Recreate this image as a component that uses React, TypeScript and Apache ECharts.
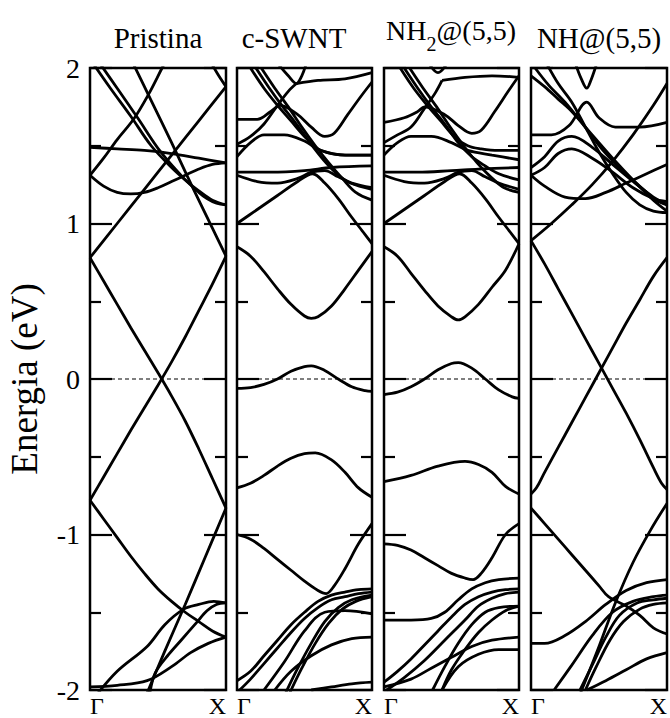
import React, { useEffect, useRef } from "react";
import * as echarts from "echarts";

const panelTitles = ["Pristina", "c-SWNT", "NH2@(5,5)", "NH@(5,5)"];
const kLabels = ["Γ", "X"];
const energyMin = -2;
const energyMax = 2;
const fermiLevel = 0;

// Pristina (5,5)
const pristinaBands: number[][][] = [
  [[0, 0.78], [0.1, 0.63], [0.2, 0.48], [0.3, 0.33], [0.4, 0.185], [0.5, 0.04], [0.6, -0.11], [0.7, -0.27], [0.8, -0.45], [0.9, -0.64], [1, -0.83]],
  [[0, -0.78], [0.1, -0.63], [0.2, -0.48], [0.3, -0.33], [0.4, -0.185], [0.5, -0.04], [0.6, 0.11], [0.7, 0.27], [0.8, 0.44], [0.9, 0.61], [1, 0.79]],
  [[0.3, 2.06], [0.45, 1.79], [0.6, 1.52], [0.75, 1.24], [0.9, 0.97], [1, 0.79]],
  [[0, -0.78], [0.1, -0.9], [0.2, -1.02], [0.3, -1.14], [0.4, -1.25], [0.5, -1.35], [0.6, -1.43], [0.7, -1.5], [0.8, -1.56], [0.9, -1.62], [1, -1.66]],
  [[0.41, -2.04], [0.55, -1.75], [0.7, -1.45], [0.85, -1.14], [1, -0.83]],
  [[0.05, -2.03], [0.2, -1.88], [0.42, -1.72], [0.55, -1.58], [0.69, -1.48], [0.8, -1.45], [0.91, -1.43], [1, -1.44]],
  [[0.44, -2.02], [0.48, -1.89], [0.58, -1.77], [0.67, -1.68], [0.78, -1.57], [0.86, -1.49], [0.93, -1.45], [1, -1.44]],
  [[0, -1.98], [0.2, -1.97], [0.42, -1.94], [0.6, -1.85], [0.74, -1.76], [0.87, -1.7], [1, -1.66]],
  [[0, 1.31], [0.1, 1.42], [0.2, 1.54], [0.32, 1.67], [0.43, 1.83], [0.53, 2.0], [0.56, 2.05]],
  [[0, 1.31], [0.1, 1.24], [0.2, 1.2], [0.3, 1.19], [0.4, 1.2], [0.5, 1.23], [0.6, 1.27], [0.7, 1.31], [0.8, 1.35], [0.9, 1.38], [1, 1.39]],
  [[0, 1.49], [0.2, 1.48], [0.4, 1.47], [0.6, 1.45], [0.8, 1.42], [1, 1.39]],
  [[0, 0.78], [0.2, 1.0], [0.4, 1.22], [0.6, 1.44], [0.8, 1.66], [1, 1.88]],
  [[0.03, 2.02], [0.15, 1.87], [0.3, 1.69], [0.45, 1.5], [0.6, 1.36], [0.7, 1.28], [0.8, 1.21], [0.9, 1.15], [1, 1.12]],
  [[0.08, 2.02], [0.2, 1.87], [0.35, 1.68], [0.52, 1.46], [0.69, 1.29], [0.8, 1.2], [0.86, 1.16], [0.93, 1.13], [1, 1.12]],
  [[0.88, 2.05], [0.94, 1.96], [1, 1.88]],
];

// c-SWNT
const cswntBands: number[][][] = [
  [[0, 0.85], [0.1, 0.79], [0.2, 0.69], [0.3, 0.58], [0.4, 0.48], [0.5, 0.405], [0.55, 0.39], [0.6, 0.4], [0.7, 0.47], [0.8, 0.58], [0.9, 0.7], [1, 0.82]],
  [[0, -0.06], [0.1, -0.055], [0.2, -0.035], [0.3, 0.0], [0.4, 0.05], [0.5, 0.08], [0.55, 0.085], [0.65, 0.055], [0.75, 0.0], [0.85, -0.05], [0.95, -0.075], [1, -0.08]],
  [[0, -0.7], [0.1, -0.67], [0.2, -0.62], [0.3, -0.56], [0.4, -0.51], [0.5, -0.48], [0.58, -0.475], [0.7, -0.52], [0.8, -0.6], [0.9, -0.7], [1, -0.76]],
  [[0, -1.0], [0.1, -1.03], [0.2, -1.09], [0.3, -1.16], [0.4, -1.23], [0.5, -1.3], [0.6, -1.36], [0.66, -1.38], [0.72, -1.33], [0.8, -1.22], [0.9, -1.06], [1, -0.93]],
  [[0, -1.94], [0.1, -1.88], [0.2, -1.78], [0.3, -1.68], [0.4, -1.58], [0.5, -1.5], [0.6, -1.43], [0.7, -1.39], [0.8, -1.37], [0.9, -1.355], [1, -1.35]],
  [[0.02, -2.0], [0.1, -1.93], [0.2, -1.83], [0.3, -1.73], [0.4, -1.63], [0.5, -1.54], [0.6, -1.47], [0.7, -1.42], [0.8, -1.4], [0.9, -1.38], [1, -1.37]],
  [[0.36, -2.02], [0.45, -1.86], [0.55, -1.7], [0.65, -1.56], [0.75, -1.47], [0.85, -1.42], [1, -1.39]],
  [[0.39, -2.02], [0.48, -1.86], [0.58, -1.7], [0.68, -1.57], [0.78, -1.48], [0.88, -1.43], [1, -1.4]],
  [[0.2, -2.0], [0.35, -1.82], [0.5, -1.62], [0.65, -1.5], [0.8, -1.49], [1, -1.51]],
  [[0.28, -2.0], [0.4, -1.88], [0.55, -1.78], [0.7, -1.71], [0.85, -1.67], [1, -1.66]],
  [[0.55, -2.0], [0.7, -1.98], [0.85, -1.96], [1, -1.95]],
  [[0, 1.0], [0.15, 1.09], [0.3, 1.18], [0.45, 1.27], [0.56, 1.32], [0.65, 1.26], [0.75, 1.16], [0.85, 1.04], [0.93, 0.95], [1, 0.87]],
  [[0, 1.33], [0.25, 1.33], [0.5, 1.34], [0.7, 1.36], [1, 1.37]],
  [[0, 1.31], [0.15, 1.27], [0.3, 1.26], [0.45, 1.29], [0.55, 1.33], [0.65, 1.34], [0.75, 1.3], [0.85, 1.26], [1, 1.23]],
  [[0.1, 2.0], [0.2, 1.87], [0.3, 1.76], [0.4, 1.66], [0.5, 1.56], [0.6, 1.48], [0.7, 1.45], [0.85, 1.44], [1, 1.44]],
  [[0.14, 2.0], [0.24, 1.87], [0.34, 1.75], [0.44, 1.64], [0.54, 1.52], [0.64, 1.41], [0.74, 1.32], [0.84, 1.26], [1, 1.22]],
  [[0.18, 2.0], [0.28, 1.87], [0.38, 1.75], [0.48, 1.62], [0.58, 1.5], [0.68, 1.39], [0.78, 1.29], [0.88, 1.2], [1, 1.15]],
  [[0.31, 2.02], [0.38, 1.95], [0.44, 1.9], [0.48, 1.95], [0.51, 2.02]],
  [[0.44, 1.9], [0.6, 1.92], [0.8, 1.93], [1, 1.97]],
  [[0, 1.67], [0.15, 1.67], [0.25, 1.72], [0.32, 1.76], [0.45, 1.7], [0.55, 1.62], [0.65, 1.56], [0.72, 1.58], [0.82, 1.7], [0.92, 1.82], [1, 1.91]],
  [[0, 1.51], [0.1, 1.56], [0.2, 1.64], [0.3, 1.76], [0.38, 1.85], [0.44, 1.9]],
  [[0, 1.43], [0.1, 1.52], [0.2, 1.57], [0.35, 1.57], [0.5, 1.53], [0.62, 1.47], [0.8, 1.44], [1, 1.44]],
];

// NH2@(5,5)
const nh2Bands: number[][][] = [
  [[0, 0.85], [0.1, 0.79], [0.2, 0.68], [0.3, 0.57], [0.4, 0.47], [0.5, 0.4], [0.55, 0.38], [0.6, 0.4], [0.7, 0.48], [0.8, 0.59], [0.9, 0.7], [1, 0.87]],
  [[0, -0.1], [0.1, -0.085], [0.2, -0.05], [0.3, 0.0], [0.4, 0.06], [0.5, 0.1], [0.55, 0.105], [0.65, 0.07], [0.75, 0.0], [0.85, -0.07], [0.95, -0.115], [1, -0.125]],
  [[0, -0.66], [0.2, -0.62], [0.4, -0.56], [0.6, -0.53], [0.7, -0.55], [0.8, -0.6], [0.9, -0.69], [1, -0.74]],
  [[0, -1.06], [0.1, -1.07], [0.2, -1.1], [0.3, -1.15], [0.4, -1.2], [0.5, -1.25], [0.6, -1.28], [0.66, -1.29], [0.72, -1.25], [0.8, -1.15], [0.9, -1.0], [1, -0.93]],
  [[0, -1.55], [0.2, -1.55], [0.35, -1.54], [0.45, -1.5], [0.55, -1.42], [0.65, -1.35], [0.75, -1.31], [0.85, -1.29], [1, -1.28]],
  [[0, -1.95], [0.1, -1.88], [0.2, -1.8], [0.3, -1.71], [0.4, -1.62], [0.5, -1.53], [0.6, -1.45], [0.7, -1.4], [0.8, -1.37], [0.9, -1.355], [1, -1.35]],
  [[0.02, -2.0], [0.15, -1.92], [0.3, -1.81], [0.45, -1.68], [0.6, -1.55], [0.7, -1.46], [0.8, -1.41], [0.9, -1.38], [1, -1.37]],
  [[0.36, -2.0], [0.45, -1.85], [0.55, -1.7], [0.65, -1.58], [0.75, -1.5], [0.85, -1.47], [1, -1.46]],
  [[0.43, -2.0], [0.5, -1.87], [0.6, -1.74], [0.7, -1.63], [0.8, -1.55], [0.9, -1.49], [1, -1.46]],
  [[0, -1.98], [0.2, -1.93], [0.35, -1.86], [0.5, -1.79], [0.65, -1.72], [0.8, -1.68], [1, -1.66]],
  [[0.43, -2.0], [0.55, -1.85], [0.7, -1.77], [0.85, -1.74], [1, -1.74]],
  [[0, 1.0], [0.15, 1.09], [0.3, 1.18], [0.45, 1.27], [0.56, 1.32], [0.65, 1.26], [0.75, 1.16], [0.85, 1.04], [0.93, 0.95], [1, 0.87]],
  [[0, 1.33], [0.25, 1.33], [0.5, 1.34], [0.7, 1.35], [1, 1.36]],
  [[0, 1.31], [0.15, 1.27], [0.3, 1.26], [0.45, 1.29], [0.55, 1.33], [0.65, 1.34], [0.75, 1.3], [0.85, 1.26], [1, 1.22]],
  [[0.12, 2.0], [0.22, 1.87], [0.32, 1.76], [0.42, 1.66], [0.52, 1.56], [0.62, 1.5], [0.72, 1.48], [0.85, 1.47], [1, 1.47]],
  [[0.15, 2.0], [0.25, 1.87], [0.35, 1.75], [0.45, 1.64], [0.55, 1.52], [0.65, 1.43], [0.75, 1.37], [0.85, 1.32], [1, 1.28]],
  [[0.19, 2.0], [0.29, 1.87], [0.39, 1.75], [0.49, 1.62], [0.59, 1.5], [0.69, 1.39], [0.79, 1.3], [0.89, 1.23], [1, 1.2]],
  [[0.34, 2.02], [0.4, 1.97], [0.46, 2.02]],
  [[0.43, 1.92], [0.6, 1.94], [0.8, 1.95], [1, 1.94]],
  [[0, 1.65], [0.15, 1.68], [0.25, 1.72], [0.3, 1.75], [0.45, 1.7], [0.55, 1.63], [0.65, 1.58], [0.72, 1.6], [0.82, 1.72], [0.92, 1.85], [1, 1.95]],
  [[0, 1.52], [0.1, 1.57], [0.2, 1.62], [0.3, 1.74], [0.38, 1.84], [0.43, 1.92]],
  [[0, 1.44], [0.1, 1.52], [0.2, 1.56], [0.35, 1.56], [0.5, 1.52], [0.62, 1.47], [0.8, 1.44], [1, 1.41]],
];

// NH@(5,5)
const nhBands: number[][][] = [
  [[0, 0.89], [0.1, 0.74], [0.2, 0.58], [0.3, 0.42], [0.4, 0.26], [0.5, 0.1], [0.6, -0.06], [0.7, -0.22], [0.8, -0.39], [0.9, -0.57], [0.96, -0.67], [1, -0.71]],
  [[0, -0.74], [0.04, -0.7], [0.1, -0.6], [0.2, -0.44], [0.3, -0.28], [0.4, -0.12], [0.5, 0.04], [0.6, 0.2], [0.7, 0.36], [0.8, 0.51], [0.9, 0.66], [1, 0.78]],
  [[0, -0.83], [0.1, -0.93], [0.2, -1.03], [0.3, -1.13], [0.4, -1.23], [0.5, -1.33], [0.57, -1.4], [0.7, -1.46], [0.8, -1.52], [0.9, -1.6], [1, -1.64]],
  [[0.35, -2.05], [0.5, -1.72], [0.62, -1.44], [0.75, -1.18], [0.88, -0.97], [1, -0.8]],
  [[0, -1.7], [0.1, -1.7], [0.25, -1.65], [0.4, -1.56], [0.55, -1.45], [0.7, -1.36], [0.85, -1.31], [1, -1.29]],
  [[0.17, -2.0], [0.3, -1.84], [0.45, -1.65], [0.6, -1.5], [0.75, -1.43], [0.9, -1.4], [1, -1.39]],
  [[0.36, -2.0], [0.45, -1.84], [0.55, -1.66], [0.65, -1.52], [0.78, -1.44], [0.9, -1.42], [1, -1.41]],
  [[0.4, -2.0], [0.48, -1.85], [0.58, -1.68], [0.68, -1.56], [0.8, -1.48], [0.9, -1.45], [1, -1.44]],
  [[0.41, -2.0], [0.55, -1.94], [0.7, -1.87], [0.85, -1.8], [1, -1.76]],
  [[0, 0.89], [0.15, 1.0], [0.3, 1.12], [0.45, 1.25], [0.6, 1.4], [0.75, 1.57], [0.9, 1.76], [1, 1.9]],
  [[0, 1.31], [0.1, 1.24], [0.25, 1.17], [0.4, 1.16], [0.55, 1.2], [0.7, 1.26], [0.85, 1.32], [1, 1.38]],
  [[0, 1.31], [0.1, 1.36], [0.2, 1.45], [0.3, 1.48], [0.45, 1.42], [0.6, 1.33], [0.75, 1.23], [0.9, 1.16], [1, 1.14]],
  [[0, 1.36], [0.1, 1.43], [0.2, 1.53], [0.3, 1.56], [0.45, 1.49], [0.6, 1.38], [0.75, 1.27], [0.9, 1.17], [1, 1.12]],
  [[0, 1.57], [0.15, 1.57], [0.28, 1.63], [0.41, 1.78], [0.5, 1.68], [0.62, 1.62], [0.8, 1.62], [1, 1.65]],
  [[0, 1.95], [0.1, 1.88], [0.2, 1.8], [0.3, 1.72], [0.45, 1.57], [0.6, 1.42], [0.75, 1.28], [0.9, 1.15], [1, 1.08]],
  [[0.03, 2.0], [0.13, 1.89], [0.25, 1.78], [0.38, 1.64], [0.52, 1.48], [0.66, 1.35], [0.8, 1.24], [0.92, 1.15], [1, 1.12]],
  [[0.12, 2.02], [0.2, 1.9], [0.3, 1.78], [0.4, 1.62], [0.5, 1.46], [0.6, 1.32], [0.7, 1.2], [0.8, 1.12], [0.9, 1.08], [1, 1.07]],
  [[0.33, 2.02], [0.37, 1.93], [0.41, 1.87], [0.44, 1.92], [0.48, 2.02]],
];

const allBands = [pristinaBands, cswntBands, nh2Bands, nhBands];
const gridLefts = [90, 237, 384, 531];
const gridWidths = [136, 135, 135, 136];

const FONT = "'Liberation Serif', 'DejaVu Serif', serif";

export default function App() {
  const ref = useRef<HTMLDivElement>(null);
  useEffect(() => {
    if (!ref.current) return;
    const chart = echarts.init(ref.current, undefined, { renderer: "svg" });
    const grids: any[] = [];
    const xAxes: any[] = [];
    const yAxes: any[] = [];
    const series: any[] = [];
    allBands.forEach((bands, i) => {
      grids.push({
        left: gridLefts[i],
        top: 68,
        width: gridWidths[i],
        height: 622,
        show: true,
        borderColor: "#000",
        borderWidth: 2.5,
        backgroundColor: "transparent",
      });
      xAxes.push({
        type: "value",
        gridIndex: i,
        min: 0,
        max: 1,
        interval: 1,
        axisLine: { show: false },
        axisTick: { show: false },
        splitLine: { show: false },
        axisLabel: {
          show: true,
          formatter: (v: number) => (v === 0 ? kLabels[0] : kLabels[1]),
          alignMinLabel: "left",
          alignMaxLabel: "right",
          fontSize: 24,
          fontFamily: FONT,
          color: "#000",
          margin: 4,
        },
      });
      const baseY = {
        type: "value",
        gridIndex: i,
        min: energyMin,
        max: energyMax,
        interval: 1,
        axisLine: { show: false },
        splitLine: { show: false },
        axisTick: { show: true, inside: true, length: 22, lineStyle: { color: "#000", width: 2.2 } },
        minorTick: { show: true, splitNumber: 2, length: 11, lineStyle: { color: "#000", width: 2.2 } },
        minorSplitLine: { show: false },
      };
      yAxes.push({
        ...baseY,
        position: "left",
        axisLabel: {
          show: i === 0,
          fontSize: 28,
          fontFamily: FONT,
          color: "#000",
          margin: 10,
          formatter: (v: number) => String(v),
        },
        name: i === 0 ? "Energia (eV)" : "",
        nameLocation: "middle",
        nameGap: 47,
        nameRotate: 90,
        nameTextStyle: { fontSize: 37, fontFamily: FONT, color: "#000" },
      });
      yAxes.push({
        ...baseY,
        position: "right",
        axisLabel: { show: false },
      });
      bands.forEach((b) => {
        series.push({
          type: "line",
          xAxisIndex: i,
          yAxisIndex: i * 2,
          data: b,
          smooth: 0.35,
          showSymbol: false,
          clip: true,
          lineStyle: { color: "#000", width: 2.8 },
          silent: true,
        });
      });
      series.push({
        type: "line",
        xAxisIndex: i,
        yAxisIndex: i * 2,
        data: [[0, fermiLevel], [1, fermiLevel]],
        showSymbol: false,
        lineStyle: { color: "#000", width: 1.2, type: [4, 3] },
        silent: true,
      });
    });
    const titleCenters = [158, 294, 451, 599];
    const graphic: any[] = titleCenters.map((cx, i) => {
      if (i === 2) {
        return {
          type: "text",
          x: cx,
          y: 16,
          style: {
            text: "{a|NH}{b|2}{a|@(5,5)}",
            align: "center",
            verticalAlign: "top",
            rich: {
              a: { fontSize: 28, fontFamily: FONT, fill: "#000", verticalAlign: "top", lineHeight: 38 },
              b: { fontSize: 20, fontFamily: FONT, fill: "#000", verticalAlign: "bottom", lineHeight: 38 },
            },
          },
        };
      }
      return {
        type: "text",
        x: cx,
        y: 38,
        style: {
          text: panelTitles[i],
          align: "center",
          verticalAlign: "middle",
          fontSize: 29,
          fontFamily: FONT,
          fill: "#000",
        },
      };
    });
    chart.setOption({
      animation: false,
      backgroundColor: "#fff",
      grid: grids,
      xAxis: xAxes,
      yAxis: yAxes,
      series,
      graphic,
    });
    return () => chart.dispose();
  }, []);
  return (
    <div
      ref={ref}
      style={{ position: "fixed", left: 0, top: 0, width: 670, height: 718, background: "#fff" }}
    />
  );
}
